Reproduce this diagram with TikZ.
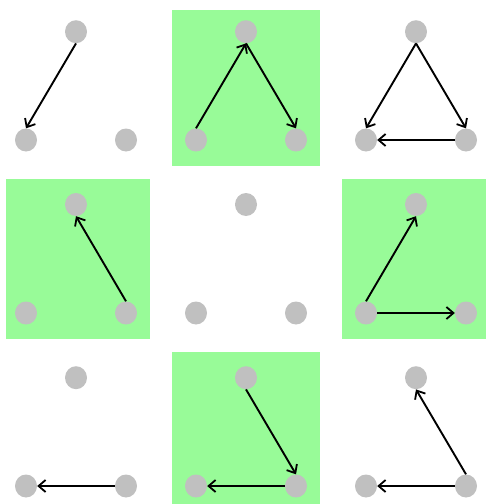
\documentclass[tikz,border=0pt]{standalone}
\usetikzlibrary{arrows.meta,shapes.geometric}
\definecolor{pgreen}{HTML}{98FB98}
\definecolor{silver}{HTML}{C0C0C0}
\begin{document}
\begin{tikzpicture}[x=1pt,y=-1pt,
  vert/.style={ellipse,fill=silver,draw=none,minimum width=22pt,minimum height=23pt,inner sep=0pt},
  bg/.style={fill=pgreen,draw=none},
  arr/.style={draw=black,line width=1.9pt,-{Straight Barb[length=7pt,width=12pt,line width=1.8pt]}}]
\useasboundingbox (0,0) rectangle (486,504);
% green backgrounds
\fill[bg] (172,10) rectangle (320,166);
\fill[bg] (6,179) rectangle (150,339);
\fill[bg] (342,179) rectangle (486,339);
\fill[bg] (172,352) rectangle (320,504);
% nodes
\foreach \r/\yt/\yb in {0/31.7/140, 1/204.5/313, 2/377.7/486}{
  \foreach \c/\dx in {0/0, 1/170, 2/340}{
    \node[vert] (t\r\c) at (76+\dx,\yt) {};
    \node[vert] (l\r\c) at (26+\dx,\yb) {};
    \node[vert] (r\r\c) at (126+\dx,\yb) {};
  }
}
% row 0
\draw[arr] (t00.south) -- (l00.north);
\draw[arr] (l01.north) -- (t01.south);
\draw[arr] (t01.south) -- (r01.north);
\draw[arr] (t02.south) -- (l02.north);
\draw[arr] (t02.south) -- (r02.north);
\draw[arr] (r02.west) -- (l02.east);
% row 1
\draw[arr] (r10.north) -- (t10.south);
\draw[arr] (l12.north) -- (t12.south);
\draw[arr] (l12.east) -- (r12.west);
% row 2
\draw[arr] (r20.west) -- (l20.east);
\draw[arr] (t21.south) -- (r21.north);
\draw[arr] (r21.west) -- (l21.east);
\draw[arr] (r22.north) -- (t22.south);
\draw[arr] (r22.west) -- (l22.east);
\end{tikzpicture}
\end{document}
